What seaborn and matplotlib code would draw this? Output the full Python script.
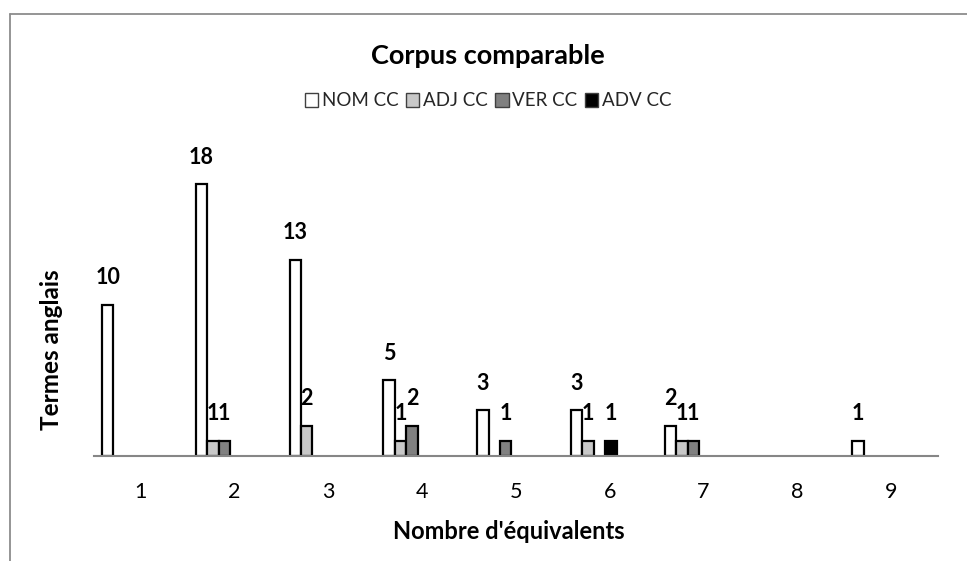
import matplotlib
matplotlib.use("Agg")
import matplotlib.pyplot as plt
from matplotlib.lines import Line2D
import seaborn as sns
import pandas as pd

categories = ["1", "2", "3", "4", "5", "6", "7", "8", "9"]
series = ["NOM CC", "ADJ CC", "VER CC", "ADV CC"]
nom_cc = [10, 18, 13, 5, 3, 3, 2, 0, 1]
adj_cc = [0, 1, 2, 1, 0, 1, 1, 0, 0]
ver_cc = [0, 1, 0, 2, 1, 0, 1, 0, 0]
adv_cc = [0, 0, 0, 0, 0, 1, 0, 0, 0]
colors = ["#ffffff", "#c8c8c8", "#808080", "#000000"]

title = "Corpus comparable"
xlabel = "Nombre d'équivalents"
ylabel = "Termes anglais"

rows = []
for s, vals in zip(series, [nom_cc, adj_cc, ver_cc, adv_cc]):
    for c, v in zip(categories, vals):
        if v > 0:
            rows.append({"cat": c, "series": s, "val": v})
df = pd.DataFrame(rows)

sns.set_theme(style="white")
plt.rcParams["font.family"] = ["Lato", "DejaVu Sans"]

fig = plt.figure(figsize=(9.67, 5.61), dpi=100)
ax = fig.add_axes([94 / 967, 1 - 455.7 / 561, (938 - 94) / 967, (455.7 - 154) / 561])

sns.barplot(data=df, x="cat", y="val", hue="series", order=categories,
            hue_order=series, palette=colors, width=0.487, errorbar=None,
            edgecolor="#000000", linewidth=1.6, ax=ax, legend=True)

for cont in ax.containers:
    ax.bar_label(cont, labels=[f"{int(v)}" for v in cont.datavalues],
                 padding=12, fontsize=15.5, fontweight="bold", color="#000000")

ax.set_ylim(0, 20)
ax.set_xlim(-0.329, 8.671)
ax.set_xticks([i + 0.171 for i in range(len(categories))])
ax.set_xticklabels(categories, fontsize=15.5, color="#000000")
ax.tick_params(axis="x", length=0, pad=19)
ax.set_yticks([])
for side in ["left", "right", "top"]:
    ax.spines[side].set_visible(False)
ax.spines["bottom"].set_color("#868686")
ax.spines["bottom"].set_linewidth(1.5)

ax.set_xlabel(xlabel, fontsize=17, fontweight="bold", color="#000000")
ax.xaxis.set_label_coords(0.492, -0.212)
ax.set_ylabel(ylabel, fontsize=17.5, fontweight="bold", color="#000000")
ax.yaxis.set_label_coords(-0.037, 0.35)

fig.text(0.505, 1 - 56 / 561, title, ha="center", va="center",
         fontsize=19.5, fontweight="bold", color="#000000")

handles, labels = ax.get_legend_handles_labels()
if ax.legend_:
    ax.legend_.remove()
for h in handles:
    h.set_edgecolor("#404040")
    h.set_linewidth(1.0)
fig.legend(handles, labels, loc="center", bbox_to_anchor=(0.505, 1 - 101 / 561),
           ncol=4, frameon=False, fontsize=13.5, handlelength=0.7,
           handleheight=0.75, handletextpad=0.2, columnspacing=0.4)

fig.add_artist(Line2D([10 / 967, 10 / 967], [0, 1 - 14 / 561], color="#8c8c8c", lw=1.3))
fig.add_artist(Line2D([10 / 967, 1], [1 - 14 / 561, 1 - 14 / 561], color="#8c8c8c", lw=1.3))

fig.savefig("out.png", dpi=100)
